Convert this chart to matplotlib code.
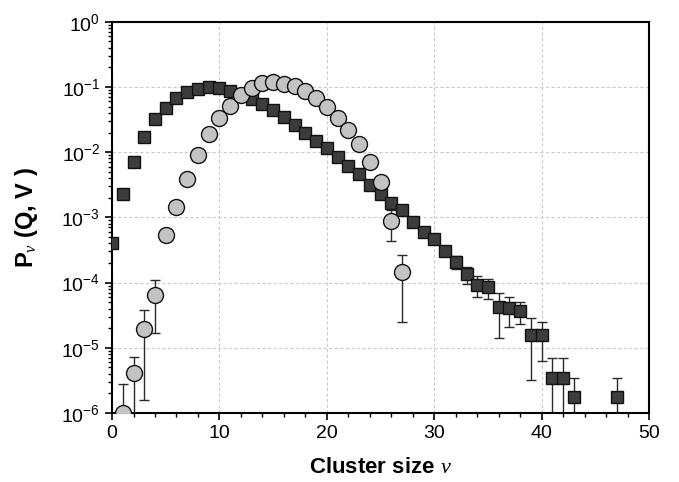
import matplotlib
matplotlib.use("Agg")
import matplotlib.pyplot as plt
from matplotlib.ticker import LogLocator, MultipleLocator, NullFormatter

plt.rcParams['font.family'] = ['Liberation Sans', 'DejaVu Sans']
plt.rcParams['mathtext.fontset'] = 'custom'
plt.rcParams['mathtext.rm'] = 'Liberation Sans'
plt.rcParams['mathtext.it'] = 'Liberation Serif:italic'
plt.rcParams['mathtext.bf'] = 'Liberation Sans:bold'

# Squares (dark series)
sq_x = [0, 1, 2, 3, 4, 5, 6, 7, 8, 9, 10, 11, 12, 13, 14, 15, 16, 17, 18, 19,
        20, 21, 22, 23, 24, 25, 26, 27, 28, 29, 30, 31, 32, 33, 34, 35, 36, 37,
        38, 39, 40, 41, 42, 43, 47]
sq_y = [4.0e-4, 2.3e-3, 7.1e-3, 1.72e-2, 3.18e-2, 4.8e-2, 6.7e-2, 8.3e-2, 9.3e-2,
        9.86e-2, 9.5e-2, 8.7e-2, 7.6e-2, 6.5e-2, 5.47e-2, 4.43e-2, 3.4e-2, 2.6e-2,
        1.99e-2, 1.5e-2, 1.17e-2, 8.5e-3, 6.2e-3, 4.57e-3, 3.14e-3, 2.26e-3,
        1.68e-3, 1.28e-3, 8.4e-4, 6.0e-4, 4.65e-4, 3.09e-4, 2.09e-4, 1.35e-4,
        9.3e-5, 8.6e-5, 4.2e-5, 4.07e-5, 3.7e-5, 1.57e-5, 1.57e-5, 3.5e-6, 3.5e-6,
        1.74e-6, 1.74e-6]
sq_err = [0, 0, 0, 0, 0, 0, 0, 0, 0, 0, 0, 0, 0, 0, 0, 0, 0, 0, 0, 0,
          0, 0, 0, 0, 0, 0, 0, 0, 0, 0, 0, 0, 4.8e-5, 4.0e-5, 3.3e-5, 2.9e-5,
          2.8e-5, 2.0e-5, 1.4e-5, 1.25e-5, 9.5e-6, 3.4e-6, 3.4e-6, 1.65e-6, 1.7e-6]

# Circles (light series)
ci_x = [1, 2, 3, 4, 5, 6, 7, 8, 9, 10, 11, 12, 13, 14, 15, 16, 17, 18, 19, 20,
        21, 22, 23, 24, 25, 26, 27]
ci_y = [1.0e-6, 4.05e-6, 1.96e-5, 6.4e-5, 5.3e-4, 1.45e-3, 3.86e-3, 9.0e-3,
        1.87e-2, 3.3e-2, 5.15e-2, 7.5e-2, 9.7e-2, 0.113, 0.119, 0.111, 0.103,
        8.65e-2, 6.68e-2, 4.86e-2, 3.37e-2, 2.19e-2, 1.33e-2, 7.1e-3, 3.52e-3,
        8.8e-4, 1.43e-4]
ci_err = [1.75e-6, 3.3e-6, 1.8e-5, 4.7e-5, 0, 0, 0, 0, 0, 0, 0, 0, 0, 0, 0, 0,
          0, 0, 0, 0, 0, 0, 0, 0, 0, 4.4e-4, 1.18e-4]

fig = plt.figure(figsize=(6.79, 4.82), dpi=100)
ax = fig.add_axes([0.165, 0.143, 0.791, 0.812])

ax.set_yscale('log')
ax.set_xlim(0, 50)
ax.set_ylim(1e-6, 1)

ax.grid(True, which='major', color='#cccccc', linestyle=(0, (3, 2)), linewidth=0.8)
ax.set_axisbelow(True)

ax.errorbar(sq_x, sq_y, yerr=sq_err, fmt='none', ecolor='#2a2a2a',
            elinewidth=1.0, capsize=3.5, capthick=1.0, zorder=2)
ax.plot(sq_x, sq_y, 's', markersize=8.3, markerfacecolor='#3c3c3c',
        markeredgecolor='#111111', markeredgewidth=1.0, zorder=3)

ax.errorbar(ci_x, ci_y, yerr=ci_err, fmt='none', ecolor='#2a2a2a',
            elinewidth=1.0, capsize=3.5, capthick=1.0, zorder=4)
ax.plot(ci_x, ci_y, 'o', markersize=11.5, markerfacecolor='#c3c3c3',
        markeredgecolor='#111111', markeredgewidth=1.0, zorder=5)

ax.xaxis.set_major_locator(MultipleLocator(10))
ax.xaxis.set_minor_locator(MultipleLocator(2))
ax.yaxis.set_major_locator(LogLocator(base=10, numticks=10))
ax.yaxis.set_minor_locator(LogLocator(base=10, subs=range(2, 10), numticks=10))
ax.yaxis.set_minor_formatter(NullFormatter())

ax.tick_params(axis='both', which='major', direction='out', length=5, width=1.2,
               labelsize=14, colors='black')
ax.tick_params(axis='both', which='minor', direction='out', length=3, width=1.0)
ax.tick_params(top=False, right=False)

for s in ax.spines.values():
    s.set_linewidth(1.5)

ax.set_xlabel(r'Cluster size $\nu$', fontsize=16, fontweight='bold', labelpad=11)
ax.set_ylabel(r'P$_{\nu}$ (Q, V )', fontsize=17, fontweight='bold', labelpad=15)

fig.savefig('out.png', dpi=100)
